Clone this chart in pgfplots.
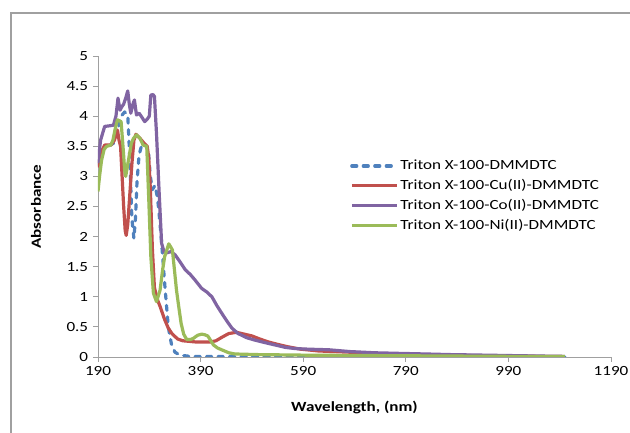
\documentclass[border=0pt]{standalone}
\usepackage{fontspec}
\setmainfont{Carlito}[FakeStretch=1.22]
\usepackage{pgfplots}
\pgfplotsset{compat=1.18}
\definecolor{xblue}{HTML}{4F81BD}
\definecolor{xred}{HTML}{C0504D}
\definecolor{xpurple}{HTML}{8064A2}
\definecolor{xgreen}{HTML}{9BBB59}
\definecolor{xgrid}{HTML}{A0A0A0}
\begin{document}
\fontsize{14}{16}\selectfont
\begin{tikzpicture}[x=1pt,y=1pt]
\useasboundingbox (-98,-76) rectangle (532,357);
\draw[xgrid,line width=1.3pt] (-87,-80) -- (-87,344) -- (540,344);
\begin{axis}[
  at={(0,0)}, anchor=origin,
  scale only axis, width=513pt, height=301pt,
  xmin=190, xmax=1190, ymin=0, ymax=5,
  xtick={190,390,590,790,990,1190},
  ytick={0,0.5,1,1.5,2,2.5,3,3.5,4,4.5,5},
  yticklabel style={/pgf/number format/fixed,/pgf/number format/precision=1},
  /pgf/number format/assume math mode=true,
  xticklabel style={/pgf/number format/set thousands separator={}},
  axis x line*=bottom, axis y line*=left,
  axis line style={xgrid,line width=0.9pt,-},
  tick style={xgrid,line width=0.9pt},
  tick align=outside, major tick length=5pt,
  ticklabel style={font=\fontsize{14}{16}\selectfont},
  xlabel={\textbf{Wavelength, (nm)}}, ylabel={\textbf{Absorbance}},
  xlabel style={font=\fontsize{14}{16}\selectfont, yshift=-16pt},
  ylabel style={font=\fontsize{14}{16}\selectfont, yshift=16pt},
  legend style={draw=none, fill=none, at={(249pt,201pt)}, anchor=north west,
    font=\fontsize{14}{16}\selectfont, row sep=3.5pt,
    /tikz/every even column/.append style={column sep=0pt}},
  legend cell align=left,
  legend image code/.code={\draw[#1] (0pt,0pt) -- (45pt,0pt);},
]
\addplot[xblue, line width=3.2pt, dash pattern=on 5pt off 6.5pt, line cap=round, line join=round] coordinates {
(190,3.2)(200,3.45)(210,3.5)(220,3.55)(228,3.75)(235,4.0)(242,4.07)(248,4.02)(252,3.3)(256,2.3)(260,1.97)(263,2.3)(266,2.9)(270,3.35)(276,3.55)(282,3.52)(288,3.45)(292,3.0)(296,2.78)(301,2.85)(306,2.65)(310,2.3)(314,1.9)(320,1.22)(327,0.5)(333,0.22)(340,0.08)(350,0.03)(370,0.01)(400,0.01)(600,0.01)(800,0.005)(1000,0.01)(1100,0.005)};
\addlegendentry{Triton X-100-DMMDTC}
\addplot[xred, line width=3.2pt, line join=round] coordinates {
(190,3.15)(196,3.4)(203,3.52)(215,3.52)(222,3.6)(228,3.77)(231,3.6)(234,3.5)(237,3.0)(240,2.5)(243,2.1)(245,2.02)(248,2.2)(252,2.7)(256,3.2)(260,3.6)(264,3.7)(272,3.63)(280,3.55)(286,3.5)(289,3.3)(292,2.8)(296,1.8)(300,1.15)(306,0.95)(311,0.84)(320,0.62)(327,0.48)(334,0.39)(345,0.3)(355,0.27)(380,0.25)(410,0.25)(420,0.27)(432,0.33)(445,0.39)(460,0.41)(475,0.38)(490,0.35)(505,0.3)(522,0.25)(540,0.21)(560,0.17)(585,0.13)(620,0.1)(680,0.08)(750,0.05)(850,0.03)(950,0.02)(1050,0.01)(1095,0.01)};
\addlegendentry{Triton X-100-Cu(II)-DMMDTC}
\addplot[xpurple, line width=3.2pt, line join=round] coordinates {
(190,3.22)(195,3.6)(203,3.83)(212,3.84)(220,3.85)(225,4.0)(229,4.3)(233,4.1)(236,4.15)(240,4.2)(244,4.3)(248,4.42)(251,4.2)(254,4.05)(258,4.2)(261,4.27)(265,4.02)(270,4.05)(275,3.99)(281,3.91)(286,3.95)(290,4.0)(293,4.35)(297,4.36)(300,4.33)(304,3.72)(309,2.77)(314,1.89)(319,1.74)(324,1.73)(332,1.75)(340,1.70)(350,1.58)(360,1.45)(370,1.37)(379,1.28)(392,1.14)(402,1.08)(412,1.0)(422,0.85)(431,0.73)(441,0.6)(451,0.48)(463,0.39)(480,0.32)(496,0.28)(515,0.24)(535,0.2)(555,0.16)(574,0.14)(600,0.13)(640,0.12)(681,0.09)(730,0.07)(779,0.06)(830,0.05)(876,0.04)(950,0.03)(1020,0.02)(1100,0.01)};
\addlegendentry{Triton X-100-Co(II)-DMMDTC}
\addplot[xgreen, line width=3.2pt, line join=round] coordinates {
(190,2.75)(193,3.0)(197,3.27)(202,3.45)(207,3.5)(215,3.52)(219,3.6)(223,3.77)(228,3.94)(235,3.91)(239,3.47)(242,3.1)(244,3.0)(247,3.15)(250,3.3)(255,3.55)(259,3.63)(265,3.69)(272,3.63)(278,3.52)(285,3.5)(289,2.61)(293,1.67)(298,1.06)(304,0.92)(311,1.11)(316,1.45)(320,1.67)(328,1.88)(335,1.78)(339,1.45)(343,1.11)(348,0.8)(352,0.56)(357,0.38)(363,0.29)(370,0.29)(376,0.31)(384,0.36)(392,0.38)(398,0.37)(404,0.35)(410,0.27)(415,0.2)(423,0.15)(431,0.12)(445,0.07)(457,0.05)(500,0.04)(600,0.03)(800,0.02)(1000,0.01)(1100,0.01)};
\addlegendentry{Triton X-100-Ni(II)-DMMDTC}
\end{axis}
\end{tikzpicture}
\end{document}
